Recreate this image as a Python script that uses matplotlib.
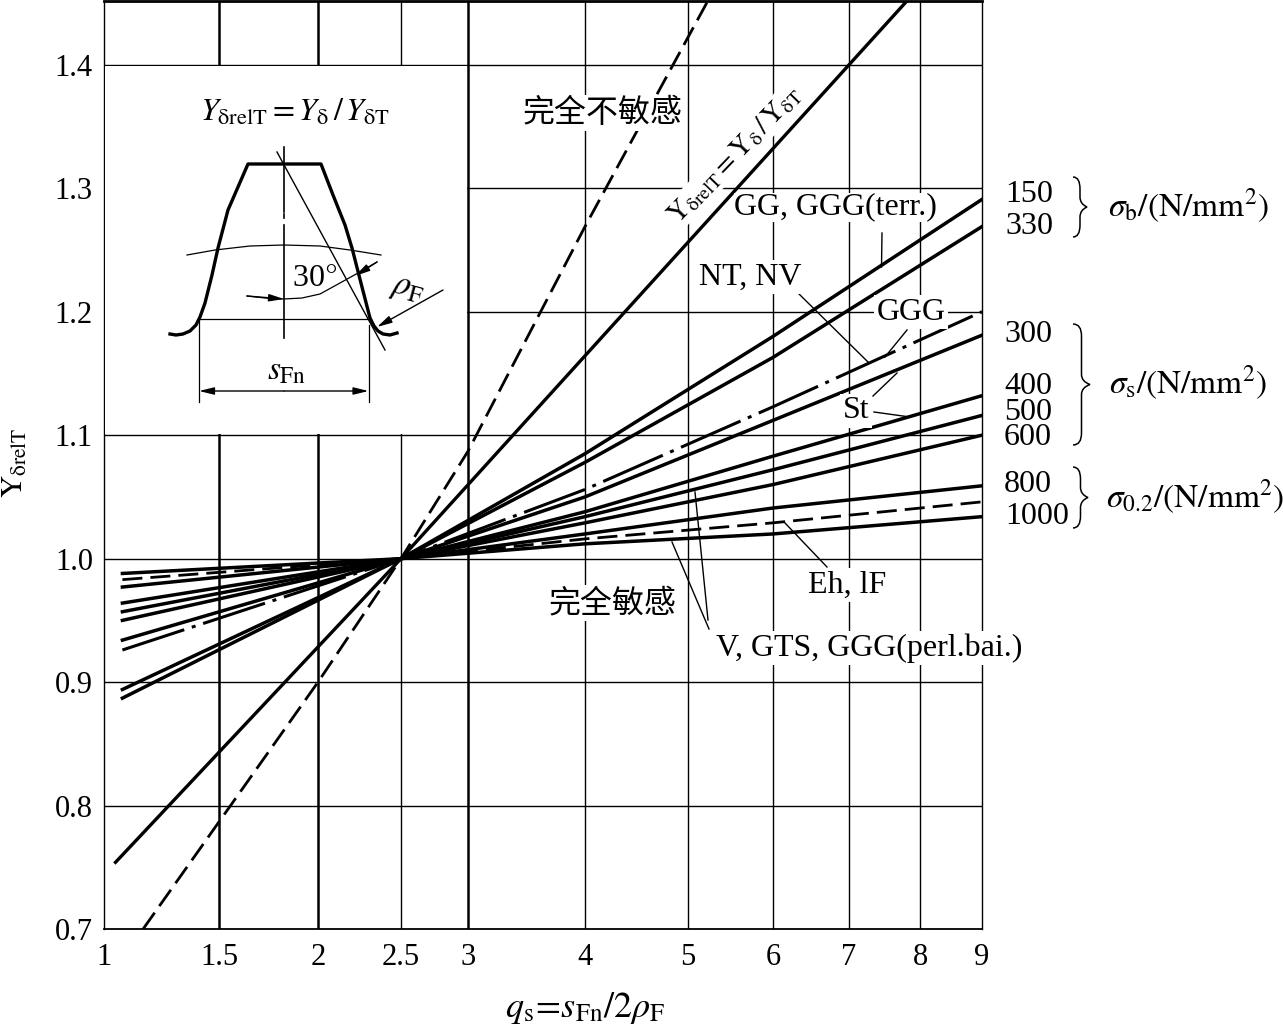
import numpy as np
from matplotlib import pyplot as plt
from matplotlib.lines import Line2D
from matplotlib.patches import PathPatch
from matplotlib.path import Path
from matplotlib.transforms import Affine2D

plt.rcParams['font.family'] = ['Liberation Serif', 'DejaVu Serif']
plt.rcParams['mathtext.fontset'] = 'stix'

W, H = 1283, 1028

# chart values
x_ticks = [1, 1.5, 2, 2.5, 3, 4, 5, 6, 7, 8, 9]
x_tick_labels = ['1', '1.5', '2', '2.5', '3', '4', '5', '6', '7', '8', '9']
y_ticks = [0.7, 0.8, 0.9, 1.0, 1.1, 1.2, 1.3, 1.4]
x_heavy = [1.5, 2, 3]
x_light = [2.5, 4, 5, 6, 7, 8]

qs = [1.08, 2.5, 4, 6, 9]
y_150 = [0.887, 1, 1.085, 1.180, 1.291]
y_330 = [0.894, 1, 1.078, 1.163, 1.269]
y_300 = [0.926, 1, 1.056, 1.123, 1.200]
y_400 = [0.934, 1, 1.050, 1.112, 1.181]
y_500 = [0.950, 1, 1.038, 1.083, 1.132]
y_600 = [0.957, 1, 1.034, 1.072, 1.116]
y_st3 = [0.964, 1, 1.029, 1.060, 1.100]
y_800 = [0.977, 1, 1.020, 1.041, 1.059]
y_eh = [0.983, 1, 1.016, 1.029, 1.046]
y_1000 = [0.988, 1, 1.012, 1.020, 1.034]

qs_ref = [1.05, 2.5, 7.82]
y_ref = [0.754, 1, 1.452]
qs_insens = [1.17, 2, 2.5, 3, 4, 5.235]
y_insens = [0.70, 0.900, 1, 1.087, 1.269, 1.452]

# the x axis of the printed chart is neither linear nor log
x_knots = [104, 219, 318, 401, 468, 585, 688, 773, 849, 920, 982]


def forward(x):
    return np.interp(x, x_ticks, x_knots)


def inverse(p):
    return np.interp(p, x_knots, x_ticks)


fig = plt.figure(figsize=(W / 100, H / 100), dpi=100)
ax = fig.add_axes([104 / W, (H - 929) / H, 878 / W, 928 / H])
ax.set_xscale('function', functions=(forward, inverse))
ax.set_xlim(1, 9)
ax.set_ylim(0.7, 1.4517)

# pixel coordinates of the page, for labels and the tooth sketch
pix = Affine2D().scale(1, -1).translate(0, H)

for y in y_ticks[1:]:
    ax.axhline(y, color='black', lw=1.0, zorder=1)
for x in x_heavy:
    ax.axvline(x, color='black', lw=1.8, zorder=1)
for x in x_light:
    ax.axvline(x, color='black', lw=1.0, zorder=1)

for y in [y_150, y_330, y_400, y_500, y_600, y_st3, y_800, y_1000]:
    ax.plot(qs, y, color='black', lw=2.5, zorder=3)
ax.plot(qs, y_300, color='black', lw=2.2, ls=(0, (21.3, 2.6, 1.3, 2.6)), zorder=3)
ax.plot(qs, y_eh, color='black', lw=2.0, ls=(0, (7.2, 2.9)), zorder=3)
ax.plot(qs_ref, y_ref, color='black', lw=2.4, zorder=3)
ax.plot(qs_insens, y_insens, color='black', lw=2.0, ls=(0, (7.2, 2.9)), zorder=3)

ax.set_xticks(x_ticks)
ax.set_xticklabels(x_tick_labels)
ax.set_yticks(y_ticks)
ax.set_yticklabels(['%.1f' % y for y in y_ticks])
ax.minorticks_off()
ax.tick_params(axis='x', length=0, pad=10, labelsize=22)
ax.tick_params(axis='y', length=0, pad=8, labelsize=22)
ax.spines['top'].set_linewidth(2.0)
ax.spines['left'].set_linewidth(1.0)
ax.spines['right'].set_linewidth(1.0)
ax.spines['bottom'].set_linewidth(1.3)


def label(px, py, s, size=23, rot=0, white=False, fam=None, pad=1.5, spacing=1.2):
    kw = {}
    if white:
        kw['bbox'] = dict(fc='white', ec='none', pad=pad)
    if fam:
        kw['family'] = fam
    fig.text(px, py, s, transform=pix, ha='center', va='center', fontsize=size,
             rotation=rot, rotation_mode='anchor', zorder=6, linespacing=spacing, **kw)


def leader(x0, y0, x1, y1, lw=1.0):
    fig.add_artist(Line2D([x0, x1], [y0, y1], color='black', lw=lw, transform=pix, zorder=5))


def brace(xl, xr, top, bot):
    mid = (top + bot) / 2
    xm = (xl + xr) / 2
    verts = [(xl, top), (xm, top), (xm, top + 12), (xm, mid - 10), (xm, mid - 3), (xr, mid),
             (xm, mid + 3), (xm, mid + 10), (xm, bot - 12), (xm, bot), (xl, bot)]
    codes = [Path.MOVETO, Path.CURVE3, Path.CURVE3, Path.LINETO, Path.CURVE3, Path.CURVE3,
             Path.CURVE3, Path.CURVE3, Path.LINETO, Path.CURVE3, Path.CURVE3]
    fig.add_artist(PathPatch(Path(verts, codes), fc='none', ec='black', lw=1.1, transform=pix))


# leaders
leader(882, 233, 881.5, 267)
leader(797, 292, 868, 362)
leader(907, 330, 885, 357)
leader(873, 396, 897, 373)
leader(874, 412, 910, 417)
leader(709, 629, 672, 542)
leader(708, 620, 695, 492)
leader(785, 523, 827, 567)

# chart labels
label(835, 207, 'GG, GGG(terr.)', white=True, pad=0)
label(750, 277, 'NT, NV', white=True)
label(911, 312, 'GGG', white=True)
label(856, 411, 'St', white=True)
label(847, 585, 'Eh, lF', white=True)
label(869, 648, 'V, GTS, GGG(perl.bai.)', white=True)
label(603, 113, '完全不敏感', size=23, white=True, fam=['Noto Sans CJK SC'])
label(613, 603, '完全敏感', size=23, white=True, fam=['Noto Sans CJK SC'])

fig.text(735, 155, r'$\mathrm{Y}_{\mathrm{\delta relT}}=\mathrm{Y}_{\mathrm{\delta}}\,/\,\mathrm{Y}_{\mathrm{\delta T}}$',
         transform=pix, ha='center', va='center', fontsize=20, rotation=46,
         rotation_mode='anchor', zorder=6, bbox=dict(fc='white', ec='none', pad=1.0))

# right hand scales
label(1029, 194, '150')
label(1029, 227, '330')
label(1028, 334, '300')
label(1028, 412, '400\n500\n600', spacing=0.86)
label(1028, 485, '800')
label(1037, 517, '1000')
brace(1073, 1087, 177, 237)
brace(1073, 1090, 324, 445)
brace(1073, 1088, 467, 528)
label(1188, 206, r'$\sigma_{\mathrm{b}}\mathrm{/(N/mm^2)}$', size=24)
label(1188, 383, r'$\sigma_{\mathrm{s}}\mathrm{/(N/mm^2)}$', size=24)
label(1195, 497, r'$\sigma_{0.2}\mathrm{/(N/mm^2)}$', size=24)

# axis titles
label(15, 463, r'$\mathrm{Y}_{\mathrm{\delta relT}}$', size=22, rot=90)
label(585, 1008, r'$q_{\mathrm{s}}\!=\!s_{\mathrm{Fn}}/2\rho_{\mathrm{F}}$', size=26)

# tooth sketch, in its own white panel over the grid
axi = fig.add_axes([105 / W, (H - 434) / H, 361.5 / W, 368 / H])
axi.set_xlim(105, 466.5)
axi.set_ylim(434, 66)
axi.set_facecolor('white')
axi.set_xticks([])
axi.set_yticks([])
for s in axi.spines.values():
    s.set_visible(False)

tooth_x = [170, 176, 183, 190, 196, 200, 205, 212, 218, 228, 248, 321, 333, 345, 352, 362, 370, 374, 378, 383, 390, 397]
tooth_y = [334, 335, 334, 331, 325, 317, 303, 275, 248, 210, 164, 164, 195, 225, 248, 287, 318, 326, 331, 334, 335, 333]
axi.plot(tooth_x, tooth_y, color='black', lw=2.4, solid_joinstyle='round')

axi.plot([284, 284], [147, 212], color='black', lw=1.2)
axi.plot([284, 284], [214, 218], color='black', lw=1.2)
axi.plot([284, 284], [225, 338], color='black', lw=1.2)
axi.plot([277, 385], [152, 350], color='black', lw=1.0)
axi.plot([187, 215, 250, 284, 320, 350, 381], [255, 250, 246, 245, 246, 250, 255], color='black', lw=0.9)
axi.plot([199, 370], [318.5, 318.5], color='black', lw=0.9)
axi.plot([199, 199], [318, 402], color='black', lw=0.9)
axi.plot([368.5, 368.5], [325, 402], color='black', lw=0.9)
axi.plot([247, 265, 284, 302, 320, 340, 358, 377], [296, 298, 299, 298, 294, 283, 273, 262], color='black', lw=0.9)

arrow = dict(arrowstyle='-|>,head_length=0.9,head_width=0.22', color='black', lw=1.0, shrinkA=0, shrinkB=0)
axi.annotate('', xy=(199, 391), xytext=(284, 391), arrowprops=arrow)
axi.annotate('', xy=(368.5, 391), xytext=(284, 391), arrowprops=arrow)
axi.annotate('', xy=(284, 299), xytext=(247, 296), arrowprops=arrow)
axi.annotate('', xy=(355, 276), xytext=(377, 262), arrowprops=arrow)
axi.annotate('', xy=(377, 327), xytext=(443, 290), arrowprops=arrow)

axi.text(314, 278, r'30$\degree$', ha='center', va='center', fontsize=23)
axi.text(408, 288, r'$\rho_{\mathrm{F}}$', ha='center', va='center', fontsize=25, rotation=-15)
axi.text(287, 371, r'$s_{\mathrm{Fn}}$', ha='center', va='center', fontsize=24)
axi.text(295, 113, r'$Y_{\mathrm{\delta relT}}=Y_{\mathrm{\delta}}\,/\,Y_{\mathrm{\delta T}}$',
         ha='center', va='center', fontsize=23)

plt.savefig('out.png', dpi=100)
